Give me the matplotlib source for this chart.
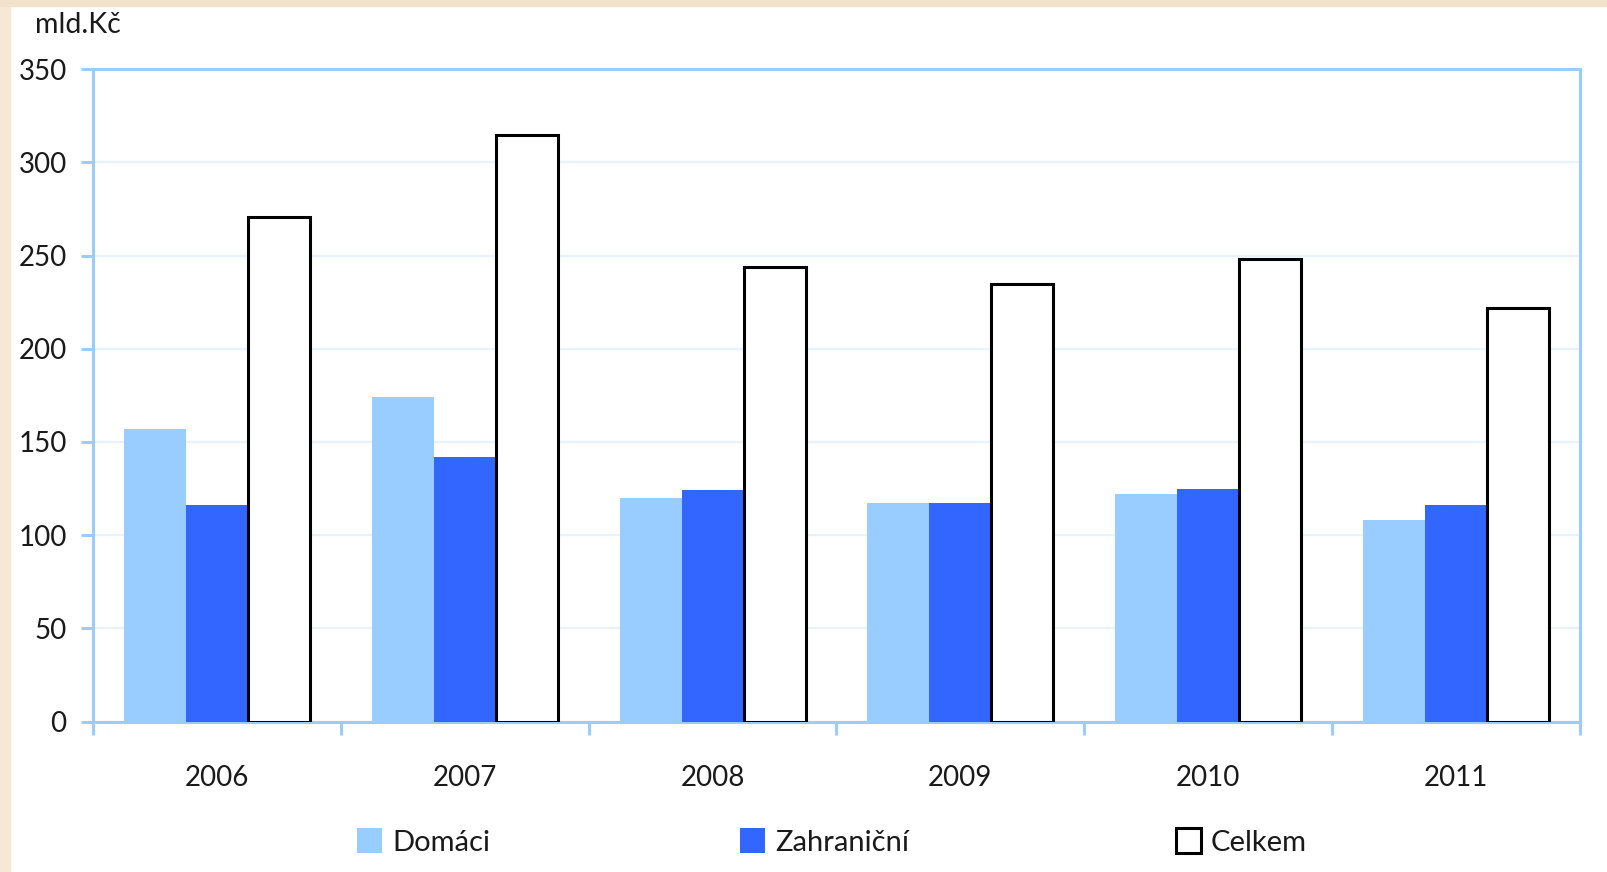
import matplotlib
matplotlib.use("Agg")
import matplotlib.pyplot as plt
import matplotlib.patches as mpatches
import numpy as np

years = ["2006", "2007", "2008", "2009", "2010", "2011"]
domaci = [157, 174, 120, 117, 122, 108]
zahranicni = [116, 142, 124, 117, 125, 116]
celkem = [271, 315, 244, 235, 248, 222]
series_names = ["Domáci", "Zahraniční", "Celkem"]
y_ticks = [0, 50, 100, 150, 200, 250, 300, 350]

plt.rcParams['font.family'] = ['Lato', 'DejaVu Sans']
TXT = '#1a1a1a'
SPINE = '#99ccff'

fig = plt.figure(figsize=(16.07, 8.72), dpi=100)
fig.patch.set_facecolor('white')
# beige border strips
fig.patches.append(mpatches.Rectangle((0, 0), 10/1607, 1, transform=fig.transFigure,
                                      color='#f7e8d5', zorder=0))
fig.patches.append(mpatches.Rectangle((0, 1-6/872), 1, 6/872, transform=fig.transFigure,
                                      color='#f2e2cc', zorder=0))

ax = fig.add_axes([93/1607, 1-721.5/872, (1580-93)/1607, (721.5-69.3)/872])

x = np.arange(len(years))
w = 0.25
ax.bar(x - w, domaci, w, color='#99ccff', label=series_names[0], zorder=3)
ax.bar(x, zahranicni, w, color='#3366ff', label=series_names[1], zorder=3)
ax.bar(x + w, celkem, w, color='white', edgecolor='black', linewidth=2.2,
       label=series_names[2], zorder=4)

ax.set_xlim(-0.5, len(years) - 0.5)
ax.set_ylim(0, 350)
ax.set_yticks(y_ticks)
ax.set_yticklabels([str(v) for v in y_ticks])
ax.yaxis.grid(True, color='#e6f2fd', linewidth=1.6, zorder=0)
ax.set_axisbelow(True)

# x ticks at category boundaries, labels at centres
ax.set_xticks(np.arange(-0.5, len(years), 1.0))
ax.set_xticklabels([])
ax.set_xticks(x, minor=True)
ax.set_xticklabels(years, minor=True)
ax.tick_params(axis='x', which='major', length=9, width=2.2, color=SPINE, direction='out')
ax.tick_params(axis='x', which='minor', length=0, pad=31, labelsize=20, labelcolor=TXT)
ax.tick_params(axis='y', length=9, width=2.2, color=SPINE, direction='out', pad=10,
               labelsize=20, labelcolor=TXT)

for s in ax.spines.values():
    s.set_color(SPINE)
    s.set_linewidth(2.2)

fig.text(35/1607, 1-12/872, "mld.Kč", fontsize=20.5, color=TXT, ha='left', va='top')

handles, labels = ax.get_legend_handles_labels()
legend_x = [357, 740, 1176]
for h, lab, lx in zip(handles, labels, legend_x):
    leg = fig.legend([h], [lab], loc='center left', bbox_to_anchor=(lx/1607, 1-842/872),
                     frameon=False, fontsize=21, handlelength=0.85, handleheight=0.9,
                     handletextpad=0.35, borderaxespad=0, borderpad=0)
    for t in leg.get_texts():
        t.set_color(TXT)

fig.savefig("out.png", dpi=100, facecolor='white')
